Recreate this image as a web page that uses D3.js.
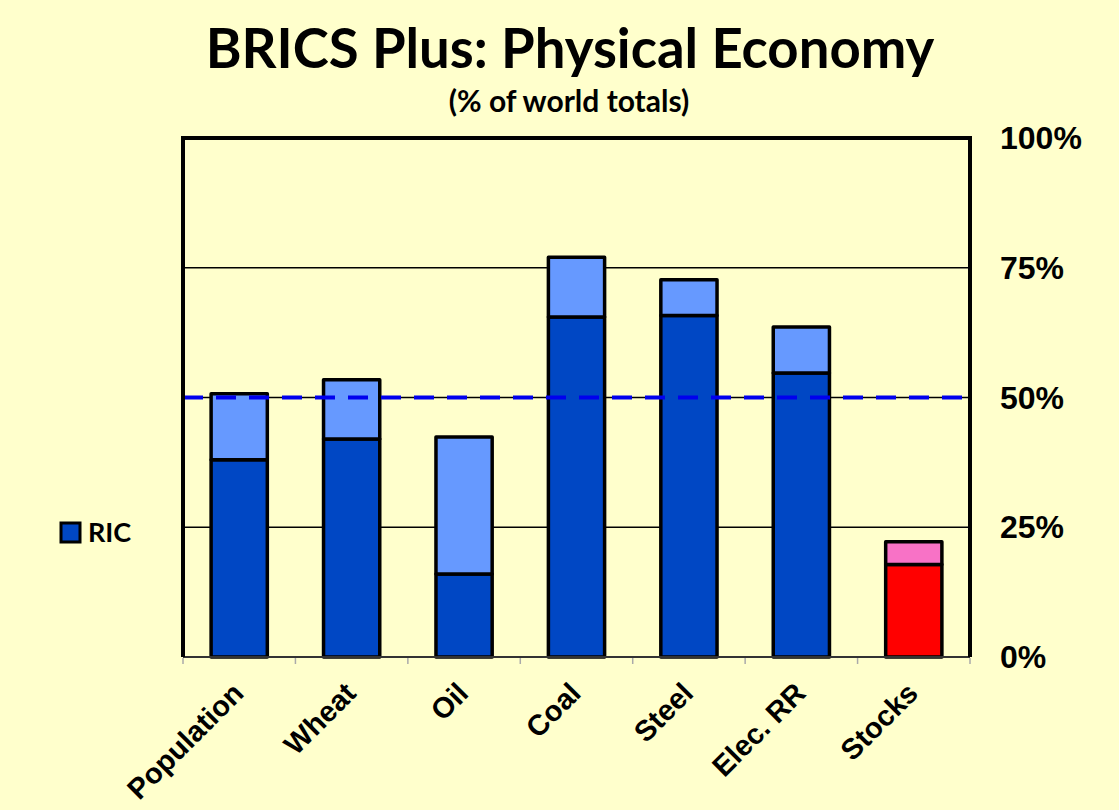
<!DOCTYPE html>
<html>
<head>
<meta charset="utf-8">
<script src="https://cdn.jsdelivr.net/npm/d3@7"></script>
<style>
    html, body { margin: 0; padding: 0; background: #FFFFCC; }
</style>
</head>
<body>
<svg id="chart" width="1119" height="810"></svg>
<script>
'use strict';

// chart data (% of world totals)
var categories = ['Population', 'Wheat', 'Oil', 'Coal', 'Steel', 'Elec. RR', 'Stocks'];
var ricValues = [38, 42, 16, 65.5, 65.8, 54.7, 17.8];
var plusTotals = [50.7, 53.4, 42.4, 77, 72.7, 63.6, 22.2];
var yTicks = [0, 25, 50, 75, 100];
var referenceLine = 50;

(function() {
    var W = 1119, H = 810,
        plotLeft = 183, plotRight = 970, plotTop = 138, plotBottom = 657;

    var svg = d3.select('#chart');

    svg.append('rect')
        .attr('width', W)
        .attr('height', H)
        .attr('fill', '#FFFFCC');

    var x = d3.scaleBand()
        .domain(categories)
        .range([plotLeft, plotRight])
        .paddingInner(0.5)
        .paddingOuter(0.25);

    var y = d3.scaleLinear()
        .domain([0, 100])
        .range([plotBottom, plotTop]);

    // stacked rows: RIC on the bottom, BRICS "plus" part on top
    var rows = categories.map(function(c, i) {
        return { cat: c, ric: ricValues[i], plus: plusTotals[i] - ricValues[i] };
    });
    var stack = d3.stack().keys(['ric', 'plus'])(rows);

    // fills: last category (Stocks) is drawn in red/pink
    function fillFor(key, cat) {
        var isStocks = cat === 'Stocks';
        if(key === 'ric') return isStocks ? '#FF0000' : '#0047C4';
        return isStocks ? '#F872C6' : '#6699FF';
    }

    // gridlines
    svg.append('g')
        .selectAll('line')
        .data(yTicks.filter(function(t) { return t > 0 && t < 100; }))
        .enter().append('line')
        .attr('x1', plotLeft)
        .attr('x2', plotRight)
        .attr('y1', function(d) { return y(d); })
        .attr('y2', function(d) { return y(d); })
        .attr('stroke', '#000')
        .attr('stroke-width', 1.5);

    // bars
    svg.append('g')
        .selectAll('g.layer')
        .data(stack)
        .enter().append('g')
        .attr('class', 'layer')
        .each(function(layer) {
            d3.select(this).selectAll('rect')
                .data(layer)
                .enter().append('rect')
                .attr('x', function(d) { return x(d.data.cat); })
                .attr('width', x.bandwidth())
                .attr('y', function(d) { return y(d[1]); })
                .attr('height', function(d) { return y(d[0]) - y(d[1]); })
                .attr('fill', function(d) { return fillFor(layer.key, d.data.cat); })
                .attr('stroke', '#000')
                .attr('stroke-width', 3.5)
                .attr('stroke-linejoin', 'round');
        });

    // 50% dashed reference
    svg.append('line')
        .attr('x1', plotLeft)
        .attr('x2', plotRight)
        .attr('y1', y(referenceLine))
        .attr('y2', y(referenceLine))
        .attr('stroke', '#0000EE')
        .attr('stroke-width', 4)
        .attr('stroke-dasharray', '20,13');

    // bottom axis with category ticks
    var xAxis = svg.append('g')
        .attr('transform', 'translate(0,' + plotBottom + ')');
    xAxis.append('line')
        .attr('x1', plotLeft)
        .attr('x2', plotRight)
        .attr('stroke', '#333')
        .attr('stroke-width', 2);
    xAxis.selectAll('line.tick')
        .data(d3.range(categories.length + 1))
        .enter().append('line')
        .attr('class', 'tick')
        .attr('x1', function(i) { return plotLeft + i * x.step(); })
        .attr('x2', function(i) { return plotLeft + i * x.step(); })
        .attr('y1', 1)
        .attr('y2', 7)
        .attr('stroke', '#aaa')
        .attr('stroke-width', 1.5);

    xAxis.selectAll('text')
        .data(categories)
        .enter().append('text')
        .attr('transform', function(d) {
            return 'translate(' + (x(d) + x.bandwidth() / 2 + 6) + ',' + 38 + ') rotate(-45)';
        })
        .attr('text-anchor', 'end')
        .attr('font-family', 'Liberation Sans, Arial, sans-serif')
        .attr('font-weight', 'bold')
        .attr('font-size', 29)
        .attr('fill', '#000')
        .text(function(d) { return d; });

    // frame: left, top, right
    svg.append('path')
        .attr('d', 'M' + plotLeft + ',' + plotBottom + 'V' + plotTop + 'H' + plotRight + 'V' + plotBottom)
        .attr('fill', 'none')
        .attr('stroke', '#000')
        .attr('stroke-width', 4);

    // right-side percentage labels
    svg.append('g')
        .selectAll('text')
        .data(yTicks)
        .enter().append('text')
        .attr('x', 1000)
        .attr('y', function(d) { return y(d) + 11; })
        .attr('font-family', 'Liberation Sans, Arial, sans-serif')
        .attr('font-weight', 'bold')
        .attr('font-size', 32)
        .attr('fill', '#000')
        .text(function(d) { return d + '%'; });

    // titles
    svg.append('text')
        .attr('x', 570)
        .attr('y', 68)
        .attr('text-anchor', 'middle')
        .attr('font-family', 'Lato, sans-serif')
        .attr('font-weight', 'bold')
        .attr('font-size', 54.5)
        .attr('fill', '#000')
        .text('BRICS Plus: Physical Economy');

    svg.append('text')
        .attr('x', 569)
        .attr('y', 112)
        .attr('text-anchor', 'middle')
        .attr('font-family', 'Lato, sans-serif')
        .attr('font-weight', 'bold')
        .attr('font-size', 30)
        .attr('fill', '#000')
        .text('(% of world totals)');

    // legend
    var legend = svg.append('g')
        .attr('transform', 'translate(61,523)');
    legend.append('rect')
        .attr('width', 19)
        .attr('height', 19)
        .attr('fill', '#0047C4')
        .attr('stroke', '#000')
        .attr('stroke-width', 3);
    legend.append('text')
        .attr('x', 27)
        .attr('y', 19)
        .attr('font-family', 'Lato, sans-serif')
        .attr('font-weight', 'bold')
        .attr('font-size', 27)
        .attr('fill', '#000')
        .text('RIC');
})();
</script>
</body>
</html>
